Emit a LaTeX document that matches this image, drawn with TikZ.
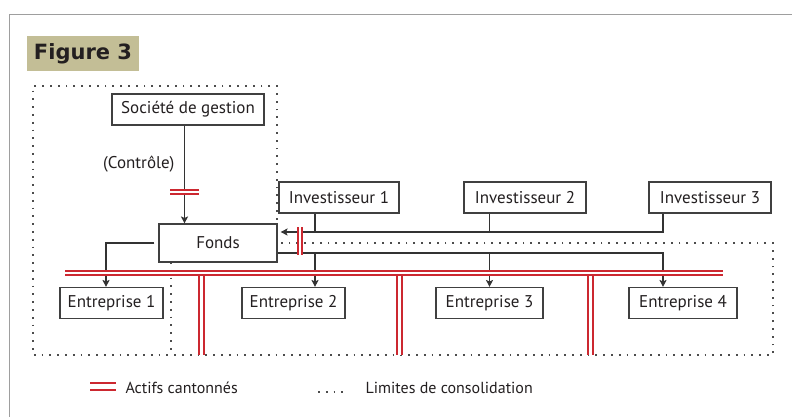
\documentclass[tikz,border=0pt]{standalone}
\usepackage{fontspec}
\setmainfont{PT Sans}
\newfontfamily\figfont{DejaVu Sans}
\usetikzlibrary{arrows.meta}
\definecolor{rouge}{RGB}{204,40,48}
\definecolor{kaki}{RGB}{195,190,150}
\definecolor{encre}{RGB}{35,31,32}
\begin{document}
\begin{tikzpicture}[x=1pt,y=-1pt,font=\fontsize{17}{20}\selectfont,text=encre,
  boite/.style={draw=black!75,line width=1.1pt,minimum height=31pt,inner sep=0pt},
  fl/.style={draw=black!80,line width=1.1pt},
  pointe/.style={fl,-{Stealth[length=7pt,width=7pt,inset=1.5pt]}},
  cant/.style={draw=rouge,double=white,double distance=2.4pt,line width=1.9pt},
  limite/.style={draw=black!70,line width=1.2pt,dash pattern=on 1.8pt off 6pt}]
\useasboundingbox (0,0) rectangle (792,417);
\draw[black!38,line width=1.5pt] (792,14.5) -- (9.5,14.5) -- (9.5,417);
\node[fill=kaki,minimum width=112pt,minimum height=35pt,font=\fontsize{21}{24}\figfont\bfseries] (fig) at (83,53.5) {Figure 3};
% limites de consolidation
\draw[limite] (277,243) -- (277,86) -- (33,86) -- (33,355) -- (773,355) -- (773,243) -- cycle (171,262) -- (171,355);
% boites
\node[boite,minimum width=152pt] (soc) at (188,109.5) {Société de gestion};
\node[boite,minimum width=118pt,minimum height=38pt] (fonds) at (218,243) {Fonds};
\path (111.5,303) node[boite,minimum width=103pt] (e1) {Entreprise 1} ++(182,0) node[boite,minimum width=103pt] (e2) {Entreprise 2}
  ++(196,0) node[boite,minimum width=107pt] (e3) {Entreprise 3} ++(193.5,0) node[boite,minimum width=108pt] (e4) {Entreprise 4};
\path (339,197.5) node[boite,minimum width=120pt] (i1) {Investisseur 1} ++(186,0) node[boite,minimum width=122pt] (i2) {Investisseur 2}
  ++(185,0) node[boite,minimum width=122pt] (i3) {Investisseur 3};
\node[anchor=east] (ctrl) at (178,164) {(Contrôle)};
\coordinate (c2) at (315,0);
\coordinate (c4) at (663,0);
\coordinate (haut) at ([xshift=-3.5pt]soc.south);
\coordinate (entree) at ([yshift=11pt]fonds.east);
\coordinate (sortie) at ([yshift=-10pt]fonds.east);
% fleches
\draw[pointe] (haut) -- (haut |- fonds.north);
\draw[pointe] ([xshift=-4pt]fonds.west) -| ([xshift=-5.5pt]e1.north);
\draw[pointe,shorten >=3pt] (i3.south -| c4) |- (entree);
\draw[fl] (i1.south -| c2) -- (entree -| c2) (i2.south -| e3) -- (entree -| e3);
\draw[pointe] (sortie) -| (c4 |- e4.north);
\draw[pointe] (sortie -| c2) -- (c2 |- e2.north);
\draw[pointe] (sortie -| e3) -- (e3.north);
% actifs cantonnes
\draw[cant] (170,192) -- (199,192) (300,227) -- (300,255);
\draw[cant] (201.5,273) -- (201.5,355) (399.5,273) -- (399.5,355) (590.5,273) -- (590.5,355);
\draw[cant] (65,273) -- (723,273);
% legende
\draw[cant,double distance=4.5pt,line width=2pt] (90,386.5) -- (116,386.5);
\node[anchor=west,font=\fontsize{16}{19}\selectfont] (lcant) at (122,388) {Actifs cantonnés};
\draw[limite] (318,392) -- (345,392);
\node[anchor=west,font=\fontsize{16}{19}\selectfont] (llim) at (362,388) {Limites de consolidation};
\end{tikzpicture}
\end{document}
